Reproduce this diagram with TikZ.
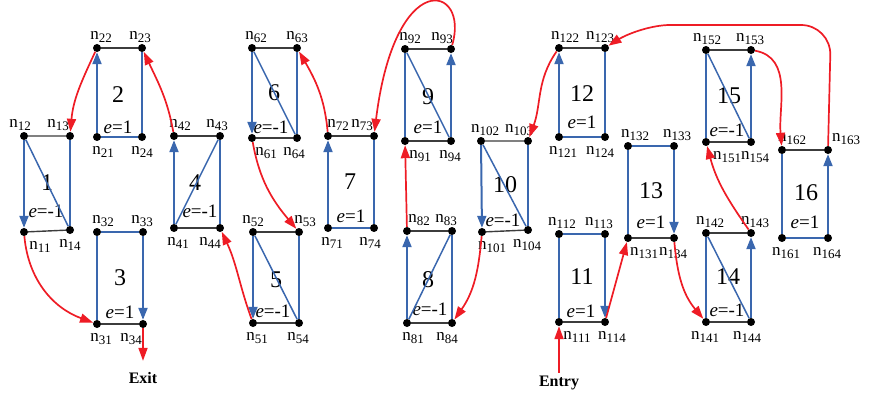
\documentclass[tikz,border=0pt]{standalone}
\usepackage{fontspec}
\setmainfont{Liberation Serif}
\usepackage{tikz}
\usetikzlibrary{arrows.meta}
\definecolor{EdgeBlue}{HTML}{3A67AE}
\definecolor{EdgeGray}{HTML}{3C3C3C}
\definecolor{RouteRed}{HTML}{EE1C25}
\newcommand{\vtx}[1]{n\raisebox{-3pt}{\fontsize{13}{13}\selectfont #1}}

\begin{document}
\begin{tikzpicture}[
            x=1pt, y=1pt,
            dot/.style={circle, fill=black, inner sep=0pt, minimum size=8pt},
            lab/.style={font=\fontsize{17}{17}\selectfont, inner sep=1pt},
            lt/.style 2 args={label={[lab, xshift=#1pt]above:\vtx{#2}}},
            lb/.style 2 args={label={[lab, xshift=#1pt, yshift=-4pt]below:\vtx{#2}}},
            blueline/.style={draw=EdgeBlue, line width=2pt},
            grayline/.style={draw=EdgeGray, line width=1.4pt},
            diag/.style={draw=EdgeBlue, line width=1.5pt},
            flow/.style={blueline, -{Triangle[length=12pt, width=9pt]}},
            route/.style={draw=RouteRed, line width=1.7pt, -{Triangle[length=13pt, width=9pt]}},
            num/.style={font=\fontsize{24}{24}\selectfont, inner sep=0pt},
            wt/.style={font=\fontsize{19}{19}\selectfont, inner sep=0pt},
            term/.style={font=\fontsize{16}{16}\selectfont\bfseries}
        ]
        \useasboundingbox (0,0) rectangle (876,-396);

        % --- Vertices of the 16 cells ---
        \node[dot, lb={16}{11}] (n11) at (24,-232) {};
        \node[dot, lt={-4}{12}] (n12) at (24,-136) {};
        \node[dot, lt={-12}{13}] (n13) at (70,-136) {};
        \node[dot, lb={0}{14}] (n14) at (70,-230) {};

        \node[dot, lb={6}{21}] (n21) at (97,-137) {};
        \node[dot, lt={4}{22}] (n22) at (97,-48) {};
        \node[dot, lt={-2}{23}] (n23) at (142,-48) {};
        \node[dot, lb={0}{24}] (n24) at (142,-137) {};

        \node[dot, lb={4}{31}] (n31) at (97,-324) {};
        \node[dot, lt={6}{32}] (n32) at (97,-232) {};
        \node[dot, lt={-1}{33}] (n33) at (143,-232) {};
        \node[dot, lb={-12}{34}] (n34) at (143,-324) {};

        \node[dot, lb={4}{41}] (n41) at (174,-228) {};
        \node[dot, lt={6}{42}] (n42) at (174,-136) {};
        \node[dot, lt={-3}{43}] (n43) at (220,-136) {};
        \node[dot, lb={-10}{44}] (n44) at (220,-228) {};

        \node[dot, lb={4}{51}] (n51) at (253,-323) {};
        \node[dot, lt={0}{52}] (n52) at (253,-232) {};
        \node[dot, lt={6}{53}] (n53) at (299,-232) {};
        \node[dot, lb={-1}{54}] (n54) at (299,-323) {};

        \node[dot, lb={14}{61}] (n61) at (252,-138) {};
        \node[dot, lt={4}{62}] (n62) at (252,-48) {};
        \node[dot, lt={0}{63}] (n63) at (297,-48) {};
        \node[dot, lb={-3}{64}] (n64) at (297,-138) {};

        \node[dot, lb={4}{71}] (n71) at (328,-228) {};
        \node[dot, lt={10}{72}] (n72) at (328,-136) {};
        \node[dot, lt={-12}{73}] (n73) at (374,-136) {};
        \node[dot, lb={-4}{74}] (n74) at (374,-228) {};

        \node[dot, lb={6}{81}] (n81) at (407,-323) {};
        \node[dot, lt={12}{82}] (n82) at (407,-231) {};
        \node[dot, lt={-6}{83}] (n83) at (452,-231) {};
        \node[dot, lb={-5}{84}] (n84) at (452,-323) {};

        \node[dot, lb={15}{91}] (n91) at (405,-141) {};
        \node[dot, lt={5}{92}] (n92) at (405,-49) {};
        \node[dot, lt={-9}{93}] (n93) at (451,-49) {};
        \node[dot, lb={-1}{94}] (n94) at (451,-141) {};

        \node[dot, lb={10}{101}] (n101) at (482,-232) {};
        \node[dot, lt={4}{102}] (n102) at (481,-141) {};
        \node[dot, lt={-9}{103}] (n103) at (528,-141) {};
        \node[dot, lb={-1}{104}] (n104) at (528,-230) {};

        \node[dot, lb={18}{111}] (n111) at (559,-322) {};
        \node[dot, lt={3}{112}] (n112) at (559,-234) {};
        \node[dot, lt={-6}{113}] (n113) at (605,-234) {};
        \node[dot, lb={7}{114}] (n114) at (605,-322) {};

        \node[dot, lb={4}{121}] (n121) at (559,-137) {};
        \node[dot, lt={6}{122}] (n122) at (559,-48) {};
        \node[dot, lt={-5}{123}] (n123) at (605,-48) {};
        \node[dot, lb={-5}{124}] (n124) at (605,-137) {};

        \node[dot, lb={16}{131}] (n131) at (628,-238) {};
        \node[dot, lt={7}{132}] (n132) at (628,-146) {};
        \node[dot, lt={3}{133}] (n133) at (674,-146) {};
        \node[dot, lb={-1}{134}] (n134) at (674,-238) {};

        \node[dot, lb={-1}{141}] (n141) at (706,-322) {};
        \node[dot, lt={4}{142}] (n142) at (706,-233) {};
        \node[dot, lt={4}{143}] (n143) at (751,-233) {};
        \node[dot, lb={-4}{144}] (n144) at (751,-322) {};

        \node[dot, lb={21}{151}] (n151) at (706,-142) {};
        \node[dot, lt={1}{152}] (n152) at (706,-50) {};
        \node[dot, lt={-1}{153}] (n153) at (751,-50) {};
        \node[dot, lb={4}{154}] (n154) at (751,-142) {};

        \node[dot, lb={4}{161}] (n161) at (782,-238) {};
        \node[dot, lt={10}{162}] (n162) at (782,-150) {};
        \node[dot, lt={18}{163}] (n163) at (828,-150) {};
        \node[dot, lb={-1}{164}] (n164) at (828,-238) {};

        % --- Cell numbers and weights ---
        \node[num] (c1) at (47,-183) {1};   \node[wt] (e1) at (46,-211) {\textit{e}=-1};
        \node[num] (c2) at (118,-95) {2};   \node[wt] (e2) at (118,-127) {\textit{e}=1};
        \node[num] (c3) at (120,-278) {3};  \node[wt] (e3) at (120,-312) {\textit{e}=1};
        \node[num] (c4) at (195,-183) {4};  \node[wt] (e4) at (200,-211) {\textit{e}=-1};
        \node[num] (c5) at (276,-280) {5};  \node[wt] (e5) at (273,-311) {\textit{e}=-1};
        \node[num] (c6) at (274,-93) {6};   \node[wt] (e6) at (271,-127) {\textit{e}=-1};
        \node[num] (c7) at (350,-182) {7};  \node[wt] (e7) at (351,-216) {\textit{e}=1};
        \node[num] (c8) at (428,-280) {8};  \node[wt] (e8) at (430,-309) {\textit{e}=-1};
        \node[num] (c9) at (428,-97) {9};   \node[wt] (e9) at (428,-127) {\textit{e}=1};
        \node[num] (c10) at (505,-185) {10}; \node[wt] (e10) at (503,-220) {\textit{e}=-1};
        \node[num] (c11) at (582,-277) {11}; \node[wt] (e11) at (581,-311) {\textit{e}=1};
        \node[num] (c12) at (582,-94) {12};  \node[wt] (e12) at (582,-122) {\textit{e}=1};
        \node[num] (c13) at (651,-191) {13}; \node[wt] (e13) at (651,-222) {\textit{e}=1};
        \node[num] (c14) at (728,-277) {14}; \node[wt] (e14) at (727,-310) {\textit{e}=-1};
        \node[num] (c15) at (729,-96) {15};  \node[wt] (e15) at (727,-130) {\textit{e}=-1};
        \node[num] (c16) at (806,-193) {16}; \node[wt] (e16) at (805,-222) {\textit{e}=1};

        % --- Cell edges ---
        \draw[grayline] (n12) -- (n13) (n11) -- (n14);
        \draw[blueline] (n13) -- (n14);
        \draw[diag] (n12) -- (n14);
        \draw[flow] (n12) -- (n11);

        \draw[grayline] (n22) -- (n23);
        \draw[blueline] (n21) -- (n24) (n23) -- (n24);
        \draw[flow] (n21) -- (n22);

        \draw[grayline] (n31) -- (n34);
        \draw[blueline] (n32) -- (n33) (n31) -- (n32);
        \draw[flow] (n33) -- (n34);

        \draw[grayline] (n42) -- (n43) (n41) -- (n44);
        \draw[blueline] (n43) -- (n44);
        \draw[diag] (n41) -- (n43);
        \draw[flow] (n41) -- (n42);

        \draw[grayline] (n52) -- (n53) (n51) -- (n54);
        \draw[blueline] (n53) -- (n54);
        \draw[diag] (n52) -- (n54);
        \draw[flow] (n52) -- (n51);

        \draw[grayline] (n62) -- (n63) (n61) -- (n64);
        \draw[blueline] (n63) -- (n64);
        \draw[diag] (n62) -- (n64);
        \draw[flow] (n62) -- (n61);

        \draw[grayline] (n72) -- (n73);
        \draw[blueline] (n71) -- (n74) (n73) -- (n74);
        \draw[flow] (n71) -- (n72);

        \draw[grayline] (n82) -- (n83) (n81) -- (n84);
        \draw[blueline] (n83) -- (n84);
        \draw[diag] (n81) -- (n83);
        \draw[flow] (n81) -- (n82);

        \draw[grayline] (n92) -- (n93) (n91) -- (n94);
        \draw[blueline] (n92) -- (n91);
        \draw[diag] (n92) -- (n94);
        \draw[flow] (n94) -- (n93);

        \draw[grayline] (n102) -- (n103) (n101) -- (n104);
        \draw[blueline] (n103) -- (n104);
        \draw[diag] (n102) -- (n104);
        \draw[flow] (n102) -- (n101);

        \draw[grayline] (n111) -- (n114);
        \draw[blueline] (n112) -- (n113) (n111) -- (n112);
        \draw[flow] (n113) -- (n114);

        \draw[grayline] (n122) -- (n123);
        \draw[blueline] (n121) -- (n124) (n123) -- (n124);
        \draw[flow] (n121) -- (n122);

        \draw[grayline] (n131) -- (n134);
        \draw[blueline] (n132) -- (n133) (n131) -- (n132);
        \draw[flow] (n133) -- (n134);

        \draw[grayline] (n142) -- (n143) (n141) -- (n144);
        \draw[blueline] (n141) -- (n142);
        \draw[diag] (n142) -- (n144);
        \draw[flow] (n144) -- (n143);

        \draw[grayline] (n152) -- (n153) (n151) -- (n154);
        \draw[blueline] (n151) -- (n152);
        \draw[diag] (n152) -- (n154);
        \draw[flow] (n154) -- (n153);

        \draw[grayline] (n162) -- (n163);
        \draw[blueline] (n161) -- (n164) (n161) -- (n162);
        \draw[flow] (n164) -- (n163);

        % --- Entry / exit ---
        \node[term] (entry) at (559,-383) {Entry};
        \node[term] (exit) at (143,-378) {Exit};

        % --- Route through the cells (red) ---
        \draw[route] (entry) -- (n111);
        \draw[route] (n114) -- (n131);
        \draw[route] (n134) to[out=-85, in=130] (n141);
        \draw[route] (n143) to[out=125, in=-75] (n151);
        \draw[route] (n153) to[out=-10, in=95] (n162);
        \draw[route, rounded corners=30pt] (n163) -- (831,-25) -- (640,-25) -- (n123);
        \draw[route] (n122) to[out=-125, in=70] (n103);
        \draw[route] (n101) to[out=-95, in=55] (n84);
        \draw[route] (n82) -- (n91);
        \draw[route] (n93) .. controls (470,15) and (395,35) .. (n73);
        \draw[route] (n72) to[out=95, in=-60] (n63);
        \draw[route] (n61) to[out=-80, in=130] (n53);
        \draw[route] (n51) to[out=110, in=-65] (n44);
        \draw[route] (n42) to[out=100, in=-65] (n23);
        \draw[route] (n22) to[out=-115, in=85] (n13);
        \draw[route] (n11) to[out=-85, in=160] (n31);
        \draw[route, shorten >=8pt] (n34) -- (exit);

        \end{tikzpicture}
\end{document}
